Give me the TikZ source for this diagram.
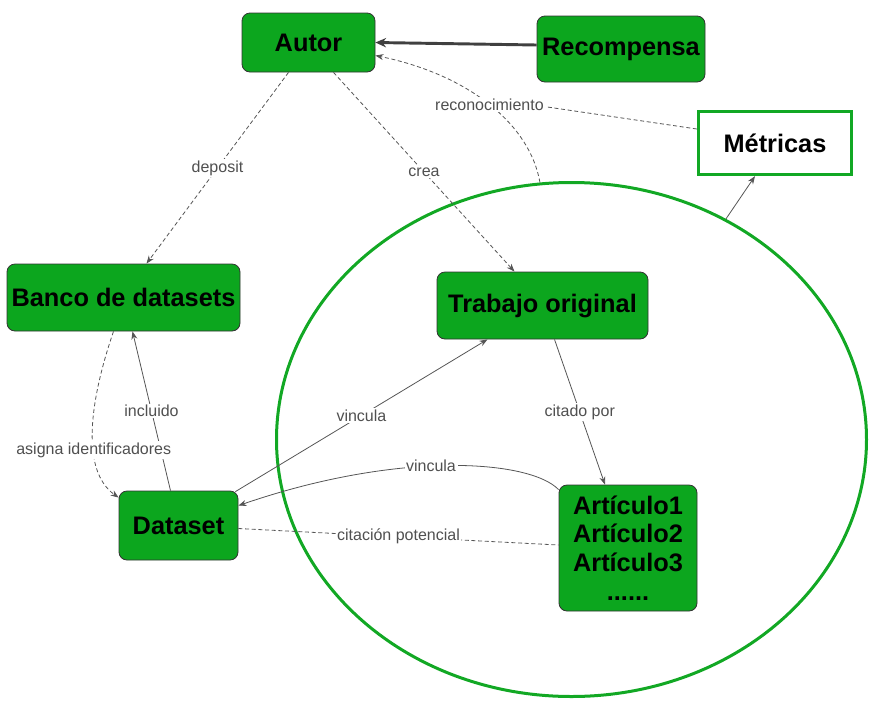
\documentclass[tikz,border=0pt]{standalone}
\usepackage{fontspec}
\setmainfont{Liberation Sans}
\usetikzlibrary{shapes.geometric,arrows.meta,calc}
\definecolor{boxgreen}{RGB}{12,166,30}
\definecolor{ringgreen}{RGB}{18,168,36}
\definecolor{edgegray}{RGB}{85,85,85}
\definecolor{lblgray}{RGB}{80,80,80}
\tikzset{
  box/.style={draw=black!80, fill=boxgreen, rounded corners=6pt, line width=0.6pt,
    inner sep=0pt, font=\bfseries\fontsize{19}{21.5}\selectfont, text=black},
  metbox/.style={draw=ringgreen, fill=white, line width=2.2pt, inner sep=0pt,
    font=\bfseries\fontsize{19}{21.5}\selectfont},
  lbl/.style={fill=white, inner sep=1.2pt, text=lblgray, font=\fontsize{12}{14}\selectfont},
  edge/.style={draw=edgegray, line width=0.6pt, -{Stealth[length=6pt,width=4.5pt]}},
  dedge/.style={edge, dash pattern=on 3pt off 2pt},
  plain/.style={draw=edgegray, line width=0.6pt},
  dplain/.style={plain, dash pattern=on 3pt off 2pt},
}
\begin{document}
\begin{tikzpicture}[x=0.75pt,y=-0.75pt]
\useasboundingbox (0,0) rectangle (872,701);
% ring
\node[draw=ringgreen, line width=2.25pt, ellipse, inner sep=0pt,
  minimum width=442.5pt, minimum height=385.5pt] (circ) at (571.5,439.5) {};
% nodes
\node[box, minimum width=99.75pt, minimum height=44.25pt] (autor) at (308.5,42.5) {Autor};
\node[box, minimum width=126pt, minimum height=49.5pt] (recomp) at (621,49) {Recompensa};
\node[metbox, minimum width=115pt, minimum height=47.5pt] (metricas) at (775,143) {Métricas};
\node[box, minimum width=174.75pt, minimum height=50.25pt] (banco) at (123.5,297.5) {Banco de datasets};
\node[box, minimum width=158.25pt, minimum height=50.25pt] (trabajo) at (542.5,305.5) {Trabajo original};
\node[box, minimum width=89.25pt, minimum height=51.75pt] (dataset) at (178.5,525.5) {Dataset};
\node[box, minimum width=103.5pt, minimum height=94.5pt, align=center] (art) at (628,548)
  {Artículo1\\Artículo2\\Artículo3\\......};
% connectors
\draw[edge, line width=2.2pt, draw=black!75, -{Stealth[length=8pt,width=7pt]}]
  ($(recomp.west)+(0,-4)$) -- (autor.east);
\draw[dedge] (circ.97.7) .. controls (530,125) and (470,75) .. ($(autor.east)+(0,13)$)
  node[lbl, pos=0.5] (reco) {reconocimiento};
\draw[dplain] ($(metricas.west)+(0,-14)$) -- ($(reco.east)+(0,2)$);
\draw[dedge] ($(autor.south)+(-20,0)$) -- ($(banco.north)+(23,0)$)
  node[lbl, midway] {deposit};
\draw[dedge] ($(autor.south)+(25,0)$) -- ($(trabajo.north)+(-28,0)$)
  node[lbl, midway] {crea};
\draw[edge] ($(dataset.north)+(-8,0)$) -- ($(banco.south)+(9,0)$)
  node[lbl, midway] {incluido};
\draw[dedge] ($(banco.south)+(-10,0)$) .. controls (90,400) and (80,470) .. ($(dataset.north west)+(0,7)$)
  node[lbl, pos=0.62] {asigna identificadores};
\draw[edge] ($(dataset.north east)+(-3,1)$) -- ($(trabajo.south)+(-55,0)$)
  node[lbl, midway] {vincula};
\draw[edge] ($(art.north west)+(0,5)$) .. controls (530,460) and (400,450) .. ($(dataset.north east)+(0,15)$)
  node[lbl, pos=0.55] {vincula};
\draw[dplain] ($(dataset.east)+(0,3)$) -- ($(art.west)+(0,-3)$)
  node[lbl, midway] {citación potencial};
\draw[edge] ($(trabajo.south)+(12,0)$) -- ($(art.north)+(-23,0)$)
  node[lbl, midway] {citado por};
\draw[edge] (circ.55) -- ($(metricas.south)+(-20,0)$);
\end{tikzpicture}
\end{document}
